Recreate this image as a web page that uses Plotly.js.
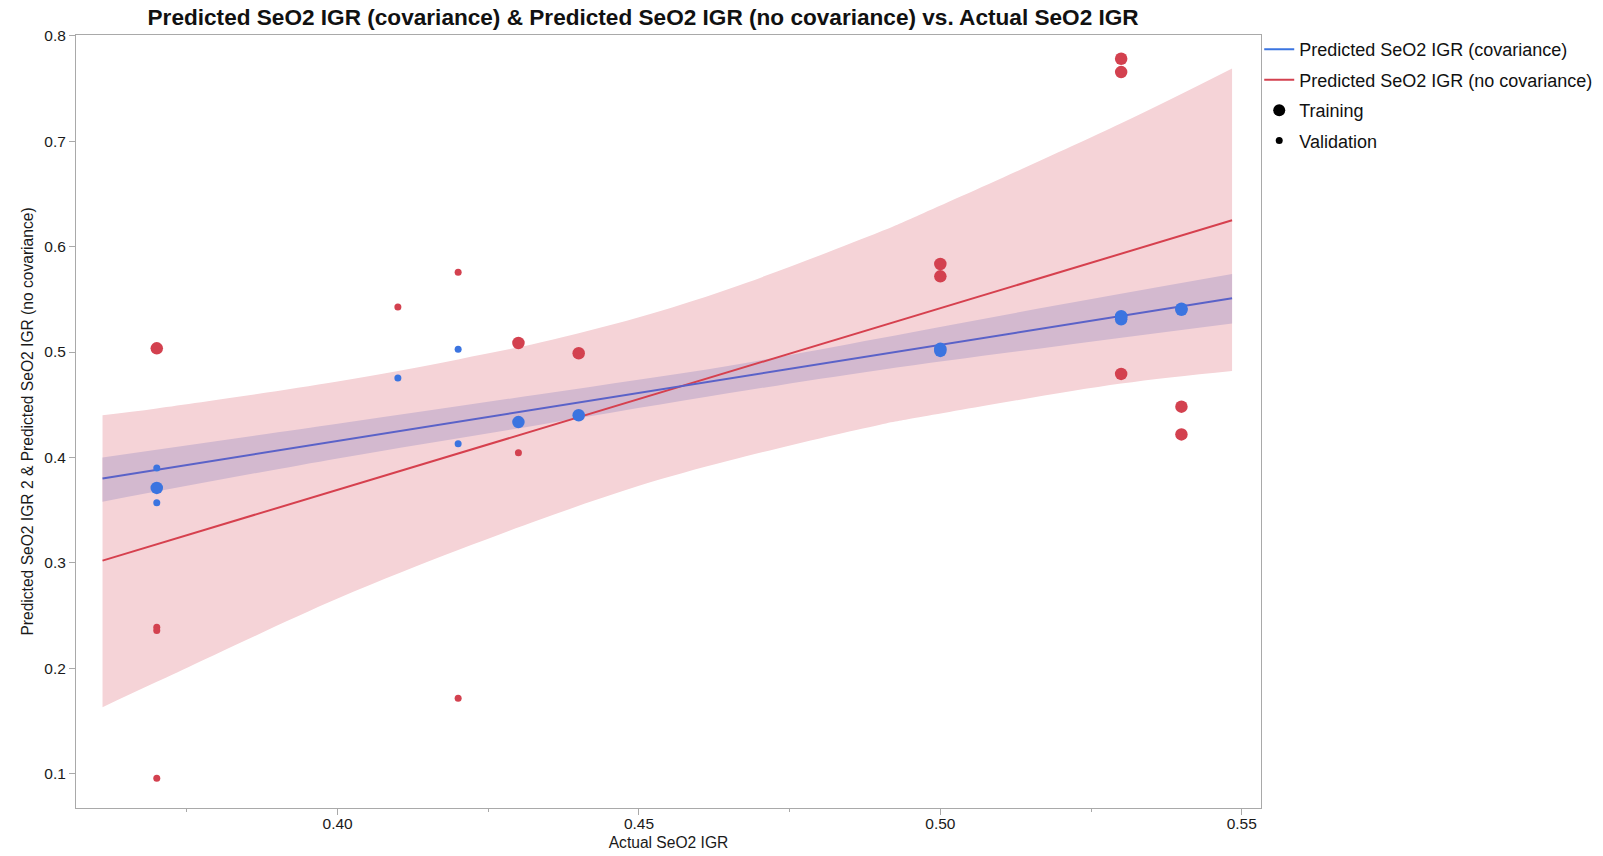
<!DOCTYPE html>
<html>
<head>
<meta charset="utf-8">
<script src="https://cdn.plot.ly/plotly-3.0.1.min.js"></script>
<style>
html,body{margin:0;padding:0;background:#ffffff;}
#chart{width:1603px;height:856px;}
</style>
</head>
<body>
<div id="chart"></div>
<script>
// ---- data ----
const trainActual = [0.37, 0.43, 0.44, 0.50, 0.50, 0.53, 0.53, 0.53, 0.54, 0.54];
const trainPredCov = [0.371, 0.4335, 0.440, 0.501, 0.503, 0.531, 0.533, 0.534, 0.540, 0.541];
const trainPredNoCov = [0.5035, 0.5085, 0.4988, 0.5835, 0.5718, 0.7783, 0.7656, 0.4792, 0.4481, 0.4218];

const validActual = [0.37, 0.37, 0.37, 0.41, 0.42, 0.42, 0.43];
const validPredCov = [0.390, 0.357, 0.372, 0.4754, 0.5027, 0.413, 0.433];
const validPredNoCov = [0.2388, 0.2358, 0.0956, 0.5426, 0.5757, 0.1715, 0.4043];

const fitX = [0.361, 0.5484];
const fitCov = [0.380, 0.551];
const fitNoCov = [0.302, 0.625];

const bandNoCovX = [0.361, 0.37, 0.40, 0.42, 0.4336, 0.45, 0.465, 0.49, 0.4965, 0.53, 0.5484];
const bandNoCovUpper = [0.440, 0.4465, 0.472, 0.493, 0.509, 0.533, 0.560, 0.614, 0.630, 0.717, 0.769];
const bandNoCovLower = [0.163, 0.187, 0.266, 0.312, 0.341, 0.373, 0.397, 0.431, 0.438, 0.470, 0.482];

const bandCovX = [0.361, 0.40, 0.4336, 0.465, 0.49, 0.52, 0.5484];
const bandCovUpper = [0.400, 0.432, 0.460, 0.487, 0.513, 0.545, 0.574];
const bandCovLower = [0.358, 0.399, 0.431, 0.461, 0.483, 0.506, 0.527];

const seriesNames = ['Predicted SeO2 IGR (covariance)', 'Predicted SeO2 IGR (no covariance)'];
const setNames = ['Training', 'Validation'];

const chartTitle = 'Predicted SeO2 IGR (covariance) & Predicted SeO2 IGR (no covariance) vs. Actual SeO2 IGR';
const xTitle = 'Actual SeO2 IGR';
const yTitle = 'Predicted SeO2 IGR 2 & Predicted SeO2 IGR (no covariance)';

// ---- styles ----
const BLUE = '#3b74e0';
const RED = '#d3414f';
const BLUE_LINE = '#5a62c8';
const RED_LINE = '#d6404e';
const RED_BAND = '#f5d3d7';
const BLUE_BAND = '#d3b9cf';
const FONT = 'Liberation Sans, Arial, Helvetica, sans-serif';

const bandLine = (c) => ({width: 0, color: c, shape: 'spline', smoothing: 1});

const traces = [
  {x: bandNoCovX, y: bandNoCovLower, type: 'scatter', mode: 'lines', line: bandLine(RED_BAND),
   hoverinfo: 'skip', showlegend: false},
  {x: bandNoCovX, y: bandNoCovUpper, type: 'scatter', mode: 'lines', line: bandLine(RED_BAND),
   fill: 'tonexty', fillcolor: RED_BAND, hoverinfo: 'skip', showlegend: false},
  {x: bandCovX, y: bandCovLower, type: 'scatter', mode: 'lines', line: bandLine(BLUE_BAND),
   hoverinfo: 'skip', showlegend: false},
  {x: bandCovX, y: bandCovUpper, type: 'scatter', mode: 'lines', line: bandLine(BLUE_BAND),
   fill: 'tonexty', fillcolor: BLUE_BAND, hoverinfo: 'skip', showlegend: false},
  {x: fitX, y: fitNoCov, type: 'scatter', mode: 'lines', line: {color: RED_LINE, width: 2}, showlegend: false},
  {x: fitX, y: fitCov, type: 'scatter', mode: 'lines', line: {color: BLUE_LINE, width: 2}, showlegend: false},
  {x: trainActual, y: trainPredNoCov, type: 'scatter', mode: 'markers', marker: {color: RED, size: 12.5}, showlegend: false},
  {x: validActual, y: validPredNoCov, type: 'scatter', mode: 'markers', marker: {color: RED, size: 7}, showlegend: false},
  {x: trainActual, y: trainPredCov, type: 'scatter', mode: 'markers', marker: {color: BLUE, size: 12.5}, showlegend: false},
  {x: validActual, y: validPredCov, type: 'scatter', mode: 'markers', marker: {color: BLUE, size: 7}, showlegend: false},
  // legend entries
  {x: [null], y: [null], type: 'scatter', mode: 'lines', name: seriesNames[0], legendgroup: 'a', line: {color: BLUE, width: 2}},
  {x: [null], y: [null], type: 'scatter', mode: 'lines', name: seriesNames[1], legendgroup: 'b', line: {color: RED, width: 2}},
  {x: [null], y: [null], type: 'scatter', mode: 'markers', name: setNames[0], legendgroup: 'c', marker: {color: '#000', size: 12}},
  {x: [null], y: [null], type: 'scatter', mode: 'markers', name: setNames[1], legendgroup: 'd', marker: {color: '#000', size: 7}}
];

const axisCommon = {
  showline: true, mirror: true, linecolor: '#a9a9a9', linewidth: 1,
  showgrid: false, zeroline: false,
  ticks: 'outside', ticklen: 6, tickcolor: '#a9a9a9', tickwidth: 1,
  tickfont: {family: FONT, size: 15.5, color: '#1a1a1a'}
};

const layout = {
  width: 1603, height: 856,
  margin: {l: 76, r: 342, t: 35, b: 48, pad: 0, autoexpand: false},
  paper_bgcolor: '#ffffff', plot_bgcolor: '#ffffff',
  font: {family: FONT, color: '#1a1a1a'},
  title: {
    text: '<b>' + chartTitle + '</b>',
    font: {family: FONT, size: 22.6, color: '#111'},
    x: 0.4012, xref: 'container', xanchor: 'center',
    y: 0.9797, yref: 'container', yanchor: 'middle'
  },
  xaxis: Object.assign({}, axisCommon, {
    range: [0.3566, 0.5532], tick0: 0, dtick: 0.05, tickformat: '.2f',
    ticklabelstandoff: -5,
    minor: {ticks: 'outside', ticklen: 3, dtick: 0.025, tickcolor: '#a9a9a9', showgrid: false},
    title: {text: xTitle, font: {family: FONT, size: 15.6, color: '#1a1a1a'}, standoff: 6}
  }),
  yaxis: Object.assign({}, axisCommon, {
    range: [0.0673, 0.8008], tick0: 0, dtick: 0.1, tickformat: '.1f',
    title: {text: yTitle, font: {family: FONT, size: 15.6, color: '#1a1a1a'}, standoff: 6}
  }),
  legend: {
    x: 0.9985, xanchor: 'left', y: 1.005, yanchor: 'top',
    font: {family: FONT, size: 18, color: '#111'},
    itemsizing: 'trace', traceorder: 'grouped', tracegroupgap: 4,
    bgcolor: 'rgba(0,0,0,0)', borderwidth: 0
  },
  showlegend: true
};

Plotly.newPlot('chart', traces, layout, {displayModeBar: false, staticPlot: true});
</script>
</body>
</html>
